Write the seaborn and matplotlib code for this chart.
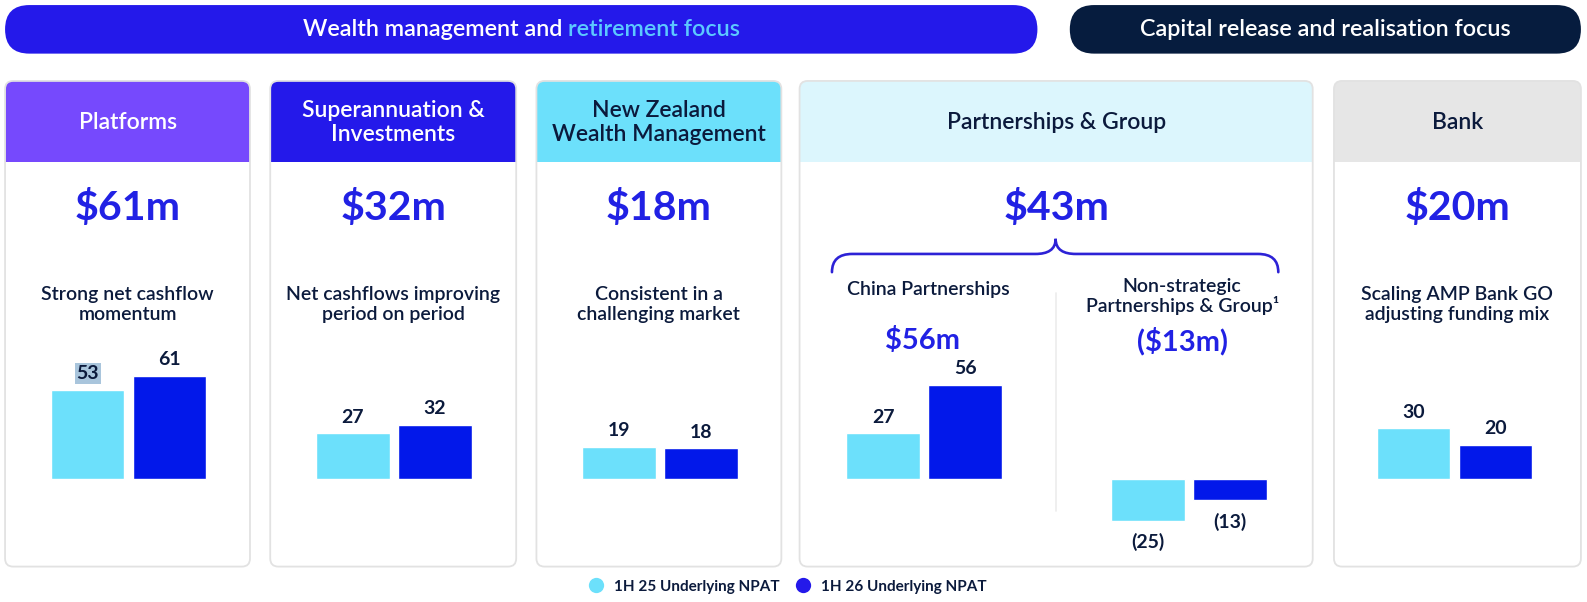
import matplotlib
matplotlib.use('Agg')
import matplotlib.pyplot as plt
from matplotlib.patches import FancyBboxPatch, Rectangle, PathPatch
from matplotlib.path import Path
from matplotlib.lines import Line2D
import pandas as pd
import seaborn as sns

# ---- data ----
segments = ['Platforms', 'Superannuation & Investments', 'New Zealand Wealth Management',
            'China Partnerships', 'Non-strategic Partnerships & Group', 'Bank']
periods = ['1H 25 Underlying NPAT', '1H 26 Underlying NPAT']
npat_1h25 = [53, 27, 19, 27, -25, 30]
npat_1h26 = [61, 32, 18, 56, -13, 20]

card_titles = ['Platforms', 'Superannuation &\nInvestments', 'New Zealand\nWealth Management',
               'Partnerships & Group', 'Bank']
card_totals = ['$61m', '$32m', '$18m', '$43m', '$20m']
card_notes = ['Strong net cashflow\nmomentum', 'Net cashflows improving\nperiod on period',
              'Consistent in a\nchallenging market', None, 'Scaling AMP Bank GO\nadjusting funding mix']
sub_titles = ['China Partnerships', 'Non-strategic\nPartnerships & Group\u00b9']
sub_totals = ['$56m', '($13m)']
banner_left = ('Wealth management and ', 'retirement focus')
banner_right = 'Capital release and realisation focus'

df = pd.DataFrame({
    'segment': segments * 2,
    'period': [periods[0]] * len(segments) + [periods[1]] * len(segments),
    'npat': npat_1h25 + npat_1h26,
})

# ---- style ----
sns.set_theme(style='white')
plt.rcParams['font.family'] = ['Lato', 'DejaVu Sans']

LIGHT = '#6ce0fb'
DARK = '#0218ea'
NAVY = '#0b1a3c'
NUM_BLUE = '#2121e4'
BORDER = '#e2e2e2'

W, H = 1568, 595  # layout units
fig = plt.figure(figsize=(15.87, 6.02), dpi=100)
bg = fig.add_axes([0, 0, 1, 1], zorder=0)
bg.set_xlim(0, W)
bg.set_ylim(H, 0)
bg.axis('off')

# banners
BANNER_FS = 16.8
bg.add_patch(FancyBboxPatch((5, 5), 1020, 48, boxstyle='round,pad=0,rounding_size=24',
                            fc='#2419ea', ec='none'))
bg.add_patch(FancyBboxPatch((1057, 5), 505, 48, boxstyle='round,pad=0,rounding_size=24',
                            fc='#061c3e', ec='none'))
bg.text(1310, 29, banner_right, ha='center', va='center', color='white',
        fontsize=BANNER_FS, fontweight='semibold')

# two-colour left banner text, centred as one line
renderer = fig.canvas.get_renderer()
px2u = W / fig.bbox.width
probe_full = bg.text(0, 0, ''.join(banner_left), fontsize=BANNER_FS, fontweight='semibold')
probe_tail = bg.text(0, 0, banner_left[1], fontsize=BANNER_FS, fontweight='semibold')
w_full = probe_full.get_window_extent(renderer).width * px2u
w_tail = probe_tail.get_window_extent(renderer).width * px2u
probe_full.remove()
probe_tail.remove()
x_start = 515 - w_full / 2
bg.text(x_start, 29, banner_left[0].rstrip(), ha='left', va='center', color='white',
        fontsize=BANNER_FS, fontweight='semibold')
bg.text(x_start + w_full - w_tail, 29, banner_left[1], ha='left', va='center', color='#5cc9ff',
        fontsize=BANNER_FS, fontweight='semibold')

# cards
card_x = [(5, 247), (267, 510), (530, 772), (790, 1297), (1318, 1562)]
head_fc = ['#7649fd', '#2419ea', '#6ce0fb', '#dcf6fd', '#e6e6e6']
head_tc = ['white', 'white', NAVY, NAVY, NAVY]
top, bottom, head_h = 80, 560, 80
for (x0, x1), fc, tc, title, total, note in zip(card_x, head_fc, head_tc,
                                                card_titles, card_totals, card_notes):
    w = x1 - x0
    bg.add_patch(FancyBboxPatch((x0, top), w, bottom - top, boxstyle='round,pad=0,rounding_size=8',
                                fc='white', ec='none'))
    bg.add_patch(FancyBboxPatch((x0, top), w, head_h, boxstyle='round,pad=0,rounding_size=8',
                                fc=fc, ec='none'))
    bg.add_patch(Rectangle((x0, top + head_h / 2), w, head_h / 2, fc=fc, ec='none'))
    bg.add_patch(FancyBboxPatch((x0, top), w, bottom - top, boxstyle='round,pad=0,rounding_size=8',
                                fc='none', ec=BORDER, lw=1.3))
    cx = (x0 + x1) / 2
    bg.text(cx, 121, title, ha='center', va='center', color=tc, fontsize=16.5,
            fontweight='semibold', linespacing=1.2)
    bg.text(cx, 206, total, ha='center', va='center', color=NUM_BLUE, fontsize=29.5,
            fontweight='bold')
    if note:
        bg.text(cx, 301, note, ha='center', va='center', color=NAVY, fontsize=14,
                fontweight='semibold', linespacing=1.2)

# partnerships split: brace, divider, sub headings
bx0, bx1, tip, ybar, ytip, yend = 822, 1263, 1043, 251, 236, 269
verts = [(bx0, yend), (bx0, ybar), (bx0 + 20, ybar),
         (tip - 20, ybar),
         (tip - 8, ybar), (tip, ybar - 4), (tip, ytip),
         (tip, ybar - 4), (tip + 8, ybar), (tip + 20, ybar),
         (bx1 - 20, ybar),
         (bx1, ybar), (bx1, yend)]
codes = [Path.MOVETO, Path.CURVE3, Path.CURVE3,
         Path.LINETO,
         Path.CURVE4, Path.CURVE4, Path.CURVE4,
         Path.CURVE4, Path.CURVE4, Path.CURVE4,
         Path.LINETO,
         Path.CURVE3, Path.CURVE3]
bg.add_patch(PathPatch(Path(verts, codes), fc='none', ec='#2d22d6', lw=1.9, capstyle='round'))
bg.plot([1043, 1043], [290, 505], color='#ececec', lw=1.2)
for sx, sy, stitle, stotal in zip([917, 1168], [286, 293], sub_titles, sub_totals):
    bg.text(sx, sy, stitle, ha='center', va='center', color=NAVY, fontsize=14,
            fontweight='semibold', linespacing=1.1)
    bg.text(sx - 6 if stotal.startswith('$') else sx, 337, stotal, ha='center', va='center',
            color=NUM_BLUE, fontsize=21, fontweight='bold')

# ---- bar panels (shared value scale) ----
bar_left = [50, 312, 575, 836, 1098, 1360]
step = 81
baseline, px_per_unit = 473, 1.66
ax_top, ax_bot = 330, 550
ylim = (-(ax_bot - baseline) / px_per_unit, (baseline - ax_top) / px_per_unit)

for i, seg in enumerate(segments):
    left = bar_left[i] - (step - 73) / 2
    ax = fig.add_axes([left / W, 1 - ax_bot / H, 2 * step / W, (ax_bot - ax_top) / H], zorder=2)
    ax.patch.set_alpha(0)
    sub = df[df['segment'] == seg]
    sns.barplot(data=sub, x='period', y='npat', hue='period', order=periods, hue_order=periods,
                palette=[LIGHT, DARK], width=0.9, legend=False, ax=ax, saturation=1)
    ax.set_xlim(-0.5, 1.5)
    ax.set_ylim(*ylim)
    ax.axis('off')
    for cont in ax.containers:
        v = cont.datavalues[0]
        lab = f'{v:.0f}' if v >= 0 else f'({-v:.0f})'
        texts = ax.bar_label(cont, labels=[lab], padding=5.5 if v >= 0 else 9,
                             color=NAVY, fontsize=14, fontweight='bold')
        if i == 0 and v == npat_1h25[0]:
            texts[0].set_bbox(dict(fc='#a9c5dc', ec='none', pad=1.2))

# legend
handles = [Line2D([], [], marker='o', ls='', ms=11, mfc=c, mec='none', label=p)
           for c, p in zip([LIGHT, '#2419ea'], periods)]
leg = fig.legend(handles=handles, loc='center', bbox_to_anchor=(778 / W, 1 - 580 / H), ncol=2,
                 frameon=False, handlelength=1.0, handletextpad=0.7, columnspacing=1.0,
                 prop={'size': 11, 'weight': 'bold'})
for t in leg.get_texts():
    t.set_color(NAVY)

fig.savefig('out.png', dpi=100, facecolor='white')
